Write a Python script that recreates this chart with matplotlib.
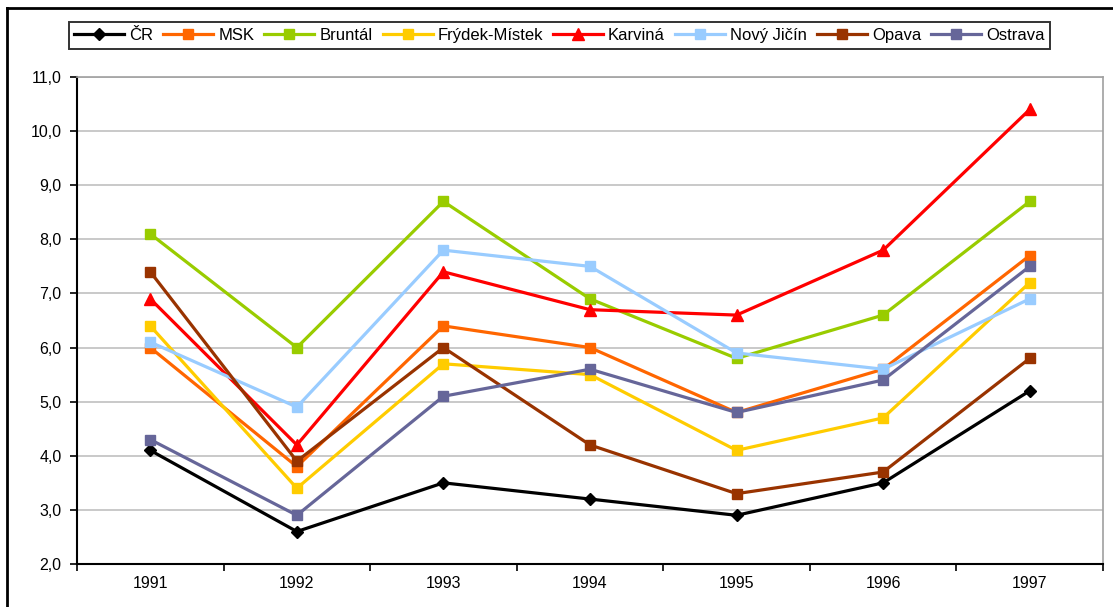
import matplotlib
matplotlib.use('Agg')
from matplotlib import pyplot as plt
from matplotlib.lines import Line2D
from matplotlib.ticker import FuncFormatter, FixedLocator

plt.rcParams['font.family'] = ['Liberation Sans', 'DejaVu Sans']

years = ['1991', '1992', '1993', '1994', '1995', '1996', '1997']
cr = [4.1, 2.6, 3.5, 3.2, 2.9, 3.5, 5.2]
msk = [6.0, 3.8, 6.4, 6.0, 4.8, 5.6, 7.7]
bruntal = [8.1, 6.0, 8.7, 6.9, 5.8, 6.6, 8.7]
frydek = [6.4, 3.4, 5.7, 5.5, 4.1, 4.7, 7.2]
karvina = [6.9, 4.2, 7.4, 6.7, 6.6, 7.8, 10.4]
novy_jicin = [6.1, 4.9, 7.8, 7.5, 5.9, 5.6, 6.9]
opava = [7.4, 3.9, 6.0, 4.2, 3.3, 3.7, 5.8]
ostrava = [4.3, 2.9, 5.1, 5.6, 4.8, 5.4, 7.5]

series = [
    ('ČR', cr, '#000000', 'D'),
    ('MSK', msk, '#FF6600', 's'),
    ('Bruntál', bruntal, '#99CC00', 's'),
    ('Frýdek-Místek', frydek, '#FFCC00', 's'),
    ('Karviná', karvina, '#FF0000', '^'),
    ('Nový Jičín', novy_jicin, '#99CCFF', 's'),
    ('Opava', opava, '#993300', 's'),
    ('Ostrava', ostrava, '#666699', 's'),
]

W, H = 1113, 607
fig = plt.figure(figsize=(W / 100, H / 100), dpi=100)
ax = fig.add_axes([77 / W, 1 - 564 / H, (1103 - 77) / W, (564 - 77) / H])

x = list(range(len(years)))
handles = []
for name, vals, col, mk in series:
    ms = {'D': 6.5, 's': 7, '^': 9}[mk]
    ln, = ax.plot(x, vals, color=col, lw=2.3, marker=mk, markersize=ms,
                  markeredgecolor=col, markerfacecolor=col, label=name, zorder=3)
    handles.append(ln)

ax.set_xlim(-0.5, 6.5)
ax.set_ylim(2, 11)
ax.set_yticks(range(2, 12))
ax.yaxis.set_major_formatter(FuncFormatter(lambda v, p: f'{v:.1f}'.replace('.', ',')))
ax.grid(axis='y', color='#C0C0C0', lw=1.2, zorder=0)
ax.set_axisbelow(True)

ax.set_xticks(x)
ax.set_xticklabels(years)
ax.xaxis.set_minor_locator(FixedLocator([i - 0.5 for i in range(8)]))
ax.tick_params(axis='x', which='major', length=0, pad=9, labelsize=11.5)
ax.tick_params(axis='x', which='minor', length=5, width=1.2, direction='out', color='black')
ax.tick_params(axis='y', length=5, width=1.2, direction='out', labelsize=11.5, pad=6)

for s in ['left', 'bottom']:
    ax.spines[s].set_color('black')
    ax.spines[s].set_linewidth(1.5)
for s in ['top', 'right']:
    ax.spines[s].set_color('#A0A0A0')
    ax.spines[s].set_linewidth(1.2)

leg = fig.legend(handles=handles, loc='center', ncol=8,
                 bbox_to_anchor=(559.5 / W, 1 - 35.5 / H), fontsize=12,
                 frameon=True, fancybox=False, edgecolor='black',
                 handlelength=3.0, columnspacing=0.6, handletextpad=0.3,
                 borderpad=0.35, borderaxespad=0)
leg.get_frame().set_linewidth(1.4)

# outer chart frame (left and top edges visible)
fig.add_artist(Line2D([7 / W, 7 / W], [0, 1 - 8 / H], color='black', lw=2,
                      transform=fig.transFigure))
fig.add_artist(Line2D([7 / W, 1], [1 - 8 / H, 1 - 8 / H], color='black', lw=2,
                      transform=fig.transFigure))

fig.savefig('out.png', dpi=100)
